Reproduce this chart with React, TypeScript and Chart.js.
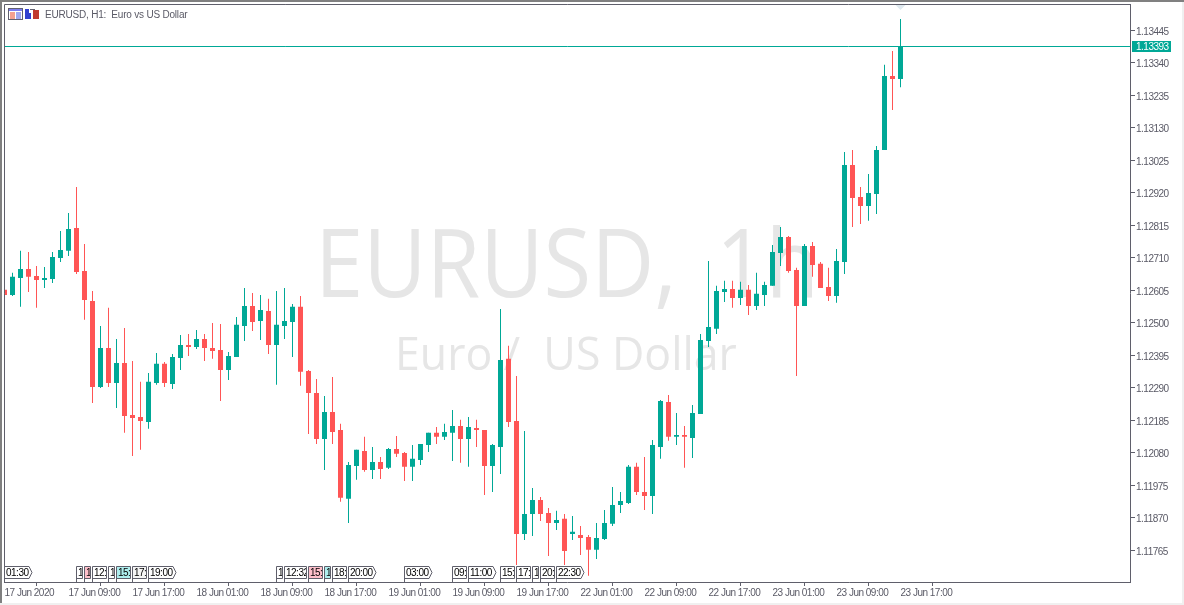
import React, { useEffect, useRef } from "react";
import { Chart, registerables } from "chart.js";

Chart.register(...registerables);

const opens = [
1.12607,1.12590,1.12645,1.12674,1.12652,1.12639,1.12642,1.12710,1.12733,1.12807,
1.12668,1.12571,1.12293,1.12419,1.12306,1.12371,1.12203,1.12196,1.12180,1.12306,
1.12368,1.12303,1.12387,1.12429,1.12422,1.12448,1.12419,1.12413,1.12348,1.12390,
1.12490,1.12555,1.12506,1.12539,1.12429,1.12490,1.12503,1.12552,1.12345,1.12274,
1.12125,1.12212,1.12154,1.11932,1.12038,1.12086,1.12025,1.12051,1.12032,1.12093,
1.12080,1.12035,1.12057,1.12106,1.12145,1.12132,1.12145,1.12167,1.12125,1.12161,
1.12154,1.12038,1.12099,1.12384,1.12183,1.11818,1.11883,1.11928,1.11886,1.11854,
1.11867,1.11818,1.11815,1.11808,1.11767,1.11802,1.11851,1.11912,1.11918,1.12035,
1.11954,1.11941,1.12099,1.12245,1.12132,1.12138,1.12128,1.12206,1.12442,1.12481,
1.12600,1.12610,1.12581,1.12607,1.12555,1.12590,1.12620,1.12726,1.12778,1.12671,
1.12555,1.12749,1.12691,1.12616,1.12587,1.12697,1.13010,1.12907,1.12878,1.12917,
1.13059,1.13298,1.13288];

const highs = [
1.12610,1.12662,1.12733,1.12729,1.12684,1.12681,1.12729,1.12797,1.12855,1.12939,
1.12755,1.12603,1.12490,1.12549,1.12448,1.12484,1.12377,1.12310,1.12338,1.12403,
1.12374,1.12400,1.12461,1.12464,1.12477,1.12464,1.12500,1.12497,1.12406,1.12519,
1.12613,1.12597,1.12590,1.12578,1.12603,1.12613,1.12561,1.12587,1.12348,1.12319,
1.12264,1.12325,1.12174,1.12051,1.12090,1.12132,1.12099,1.12067,1.12096,1.12135,
1.12083,1.12106,1.12109,1.12145,1.12164,1.12174,1.12219,1.12187,1.12196,1.12187,
1.12154,1.12109,1.12545,1.12426,1.12329,1.12151,1.11967,1.11938,1.11902,1.11893,
1.11883,1.11876,1.11844,1.11815,1.11854,1.11896,1.11970,1.11954,1.12041,1.12048,
1.12067,1.12122,1.12251,1.12267,1.12209,1.12167,1.12235,1.12464,1.12700,1.12620,
1.12636,1.12636,1.12633,1.12623,1.12662,1.12633,1.12752,1.12810,1.12781,1.12678,
1.12755,1.12762,1.12697,1.12678,1.12739,1.13052,1.13059,1.12939,1.12981,1.13072,
1.13334,1.13379,1.13482];

const lows = [
1.12587,1.12587,1.12552,1.12600,1.12549,1.12613,1.12629,1.12697,1.12716,1.12658,
1.12510,1.12241,1.12290,1.12293,1.12225,1.12145,1.12070,1.12090,1.12158,1.12300,
1.12293,1.12287,1.12348,1.12393,1.12416,1.12377,1.12384,1.12248,1.12316,1.12390,
1.12442,1.12474,1.12445,1.12400,1.12300,1.12448,1.12390,1.12297,1.12141,1.12109,
1.12025,1.12109,1.11922,1.11854,1.11993,1.12019,1.11996,1.11996,1.12028,1.12067,
1.11989,1.11989,1.12041,1.12083,1.12109,1.12122,1.12054,1.12048,1.12035,1.12099,
1.11944,1.11954,1.12012,1.12164,1.11718,1.11799,1.11812,1.11860,1.11747,1.11831,
1.11718,1.11799,1.11750,1.11683,1.11737,1.11799,1.11844,1.11886,1.11915,1.11944,
1.11896,1.11883,1.12061,1.12119,1.12106,1.12032,1.12064,1.12206,1.12422,1.12464,
1.12568,1.12549,1.12558,1.12526,1.12542,1.12555,1.12620,1.12684,1.12662,1.12329,
1.12555,1.12649,1.12613,1.12571,1.12565,1.12658,1.12810,1.12820,1.12830,1.12852,
1.13059,1.13188,1.13262];

const closes = [
1.12590,1.12649,1.12674,1.12649,1.12639,1.12645,1.12713,1.12736,1.12804,1.12665,
1.12574,1.12293,1.12419,1.12306,1.12371,1.12199,1.12193,1.12183,1.12310,1.12368,
1.12306,1.12390,1.12429,1.12422,1.12448,1.12419,1.12409,1.12348,1.12393,1.12494,
1.12555,1.12503,1.12542,1.12429,1.12494,1.12506,1.12552,1.12342,1.12274,1.12125,
1.12212,1.12148,1.11935,1.12041,1.12090,1.12025,1.12051,1.12028,1.12093,1.12077,
1.12035,1.12061,1.12109,1.12145,1.12132,1.12148,1.12167,1.12125,1.12164,1.12154,
1.12038,1.12106,1.12380,1.12180,1.11818,1.11883,1.11928,1.11883,1.11854,1.11863,
1.11763,1.11825,1.11805,1.11767,1.11805,1.11854,1.11912,1.11925,1.12035,1.11954,
1.11941,1.12106,1.12248,1.12132,1.12138,1.12132,1.12209,1.12445,1.12487,1.12603,
1.12610,1.12581,1.12607,1.12555,1.12594,1.12623,1.12729,1.12778,1.12668,1.12555,
1.12749,1.12687,1.12613,1.12587,1.12700,1.13010,1.12904,1.12878,1.12920,1.13059,
1.13298,1.13288,1.13393];

const priceTicks = [
1.13445,1.1334,1.13235,1.1313,1.13025,1.1292,1.12815,1.1271,1.12605,1.125,
1.12395,1.1229,1.12185,1.1208,1.11975,1.1187,1.11765];

const timeTickIndexes = [0,8,16,24,32,40,48,56,64,72,80,88,96,104,112];
const timeTickLabels = [
"17 Jun 2020","17 Jun 09:00","17 Jun 17:00","18 Jun 01:00","18 Jun 09:00",
"18 Jun 17:00","19 Jun 01:00","19 Jun 09:00","19 Jun 17:00","22 Jun 01:00",
"22 Jun 09:00","22 Jun 17:00","23 Jun 01:00","23 Jun 09:00","23 Jun 17:00"];

const eventIndexes = [0,9,10,11,13,14,16,18,34,35,38,40,41,43,50,56,58,62,64,66,67,69];
const eventLabels = ["01:30","1","1","12:","1","15:","17:","19:00","1","12:32","15:","1","18:","20:00","03:00","09:","11:00","15:","17:","1","20:","22:30"];
const eventKinds = ["end","plain","pink","plain","plain","cyan","soft","end","plain","plain","pink","cyan","plain","end","end","plain","end","plain","plain","plain","plain","end"];

const currentPrice = 1.13393;
const UP = "#00A896";
const DOWN = "#FF5555";
const FRAME = "#5F5F6B";
const TEXT = "#5A5A66";
const AXIS_FONT = "'Liberation Sans', sans-serif";
const TIGHT = "-0.5px";

const indexes = opens.map((_, i) => i);
const candleColors = indexes.map((i) => (closes[i] >= opens[i] ? UP : DOWN));

const decorations = {
  id: "decorations",
  beforeDraw(chart: any) {
    const { ctx, width, height } = chart;
    ctx.fillStyle = "#ffffff";
    ctx.fillRect(0, 0, width, height);
    ctx.fillStyle = "#808080";
    ctx.fillRect(0, 0, 2, height);
    ctx.fillRect(0, 0, width, 2);
    ctx.fillStyle = "#F0F0F0";
    ctx.fillRect(0, height - 2, width, 2);
    ctx.fillRect(width - 2, 2, 2, height - 2);
    // axis text is set slightly tighter than the font's own spacing
    ctx.letterSpacing = TIGHT;
  },
  beforeDatasetsDraw(chart: any) {
    const { ctx } = chart;
    ctx.save();
    ctx.letterSpacing = "0px";
    ctx.fillStyle = "#E6E6E6";
    ctx.textBaseline = "alphabetic";
    ctx.textAlign = "left";
    ctx.save();
    ctx.translate(315, 297);
    ctx.scale(0.905, 1);
    ctx.font = "500 96px 'Open Sans'";
    ctx.fillText("EURUSD,", 0, 0);
    ctx.restore();
    ctx.save();
    ctx.translate(716, 297);
    ctx.scale(0.905, 1);
    ctx.font = "500 96px 'Open Sans'";
    ctx.fillText("1h", 0, 0);
    ctx.restore();
    ctx.save();
    ctx.translate(395, 370);
    ctx.scale(0.97, 1);
    ctx.font = "46px 'Open Sans'";
    ctx.fillText("Euro /  US Dollar", 0, 0);
    ctx.restore();
    ctx.restore();
  },
  afterDatasetsDraw(chart: any) {
    const { ctx, chartArea, scales } = chart;
    const { left, right, bottom } = chartArea;
    ctx.save();
    ctx.lineWidth = 1;
    ctx.setLineDash([]);

    // price line
    const py = Math.floor(scales.y.getPixelForValue(currentPrice)) + 0.5;
    ctx.strokeStyle = UP;
    ctx.beginPath();
    ctx.moveTo(left, py);
    ctx.lineTo(right, py);
    ctx.stroke();

    // marker above last bar
    const lastX = scales.x.getPixelForValue(indexes.length - 1);
    ctx.fillStyle = "#DFE9EF";
    ctx.beginPath();
    ctx.moveTo(lastX - 5, 5);
    ctx.lineTo(lastX + 5, 5);
    ctx.lineTo(lastX, 10);
    ctx.closePath();
    ctx.fill();

    // frame
    ctx.strokeStyle = FRAME;
    ctx.beginPath();
    ctx.moveTo(4.5, bottom);
    ctx.lineTo(4.5, 4.5);
    ctx.lineTo(right, 4.5);
    ctx.stroke();

    // current price tag
    ctx.fillStyle = UP;
    ctx.fillRect(1132, 41, 39, 11);
    ctx.fillStyle = "#ffffff";
    ctx.font = `10px ${AXIS_FONT}`;
    ctx.textAlign = "left";
    ctx.textBaseline = "middle";
    ctx.fillText(currentPrice.toFixed(5), 1136, 47);

    // event labels
    ctx.font = `10px ${AXIS_FONT}`;
    eventIndexes.forEach((idx, k) => {
      const kind = eventKinds[k];
      const x = scales.x.getPixelForValue(idx);
      const isEnd = kind === "end";
      const w = isEnd ? 27.5 : (eventIndexes[k + 1] - idx) * 8 - 2;
      const yTop = 566.5;
      const yBot = 578.5;
      ctx.beginPath();
      ctx.moveTo(x, bottom);
      ctx.lineTo(x, yTop);
      if (isEnd) {
        ctx.lineTo(x + w - 3, yTop);
        ctx.lineTo(x + w, (yTop + yBot) / 2);
        ctx.lineTo(x + w - 3, yBot);
      } else {
        ctx.lineTo(x + w, yTop);
        ctx.lineTo(x + w, yBot);
      }
      ctx.lineTo(x, yBot);
      ctx.closePath();
      ctx.fillStyle = kind === "pink" ? "#FFC0CB" : kind === "cyan" ? "#AFEEEE" : kind === "soft" ? "#F5F5F5" : "#FFFFFF";
      ctx.fill();
      ctx.strokeStyle = FRAME;
      ctx.stroke();
      ctx.save();
      ctx.beginPath();
      ctx.rect(x + 0.5, yTop, w - 1, yBot - yTop);
      ctx.clip();
      ctx.fillStyle = "#000000";
      ctx.textAlign = "left";
      ctx.textBaseline = "middle";
      ctx.fillText(eventLabels[k], x + 1.5, 573);
      ctx.restore();
    });

    // title
    ctx.fillStyle = TEXT;
    ctx.font = `10px ${AXIS_FONT}`;
    ctx.letterSpacing = "-0.2px";
    ctx.textAlign = "left";
    ctx.textBaseline = "middle";
    ctx.fillText("EURUSD, H1:  Euro vs US Dollar", 45, 15);

    // chart-window icons
    ctx.strokeStyle = "#606070";
    ctx.strokeRect(8.5, 8.5, 14, 11);
    ctx.fillStyle = "#7C7CF0";
    ctx.fillRect(9, 9, 13, 2);
    ctx.fillStyle = "#F4A090";
    ctx.fillRect(10, 12, 5, 7);
    ctx.fillStyle = "#A0A8F0";
    ctx.fillRect(16, 12, 5, 7);
    ctx.fillStyle = "#3040D0";
    ctx.fillRect(25, 9, 6, 10);
    ctx.fillStyle = "#C03A30";
    ctx.fillRect(33, 10, 6, 9);
    ctx.fillStyle = "#ffffff";
    ctx.fillRect(29, 9, 4, 4);
    ctx.fillStyle = "#606070";
    ctx.fillRect(30, 9, 5, 1);
    ctx.restore();
  },
};

function noScalePadding(scale: any) {
  scale.paddingLeft = 0;
  scale.paddingRight = 0;
  scale.paddingTop = 0;
  scale.paddingBottom = 0;
}

export default function App() {
  const ref = useRef<HTMLCanvasElement | null>(null);
  useEffect(() => {
    const chart = new Chart(ref.current as HTMLCanvasElement, {
      type: "bar",
      data: {
        datasets: [
          {
            label: "wicks",
            data: indexes.map((i) => ({ x: i, y: [lows[i], highs[i]] })),
            backgroundColor: candleColors,
            barThickness: 1,
            inflateAmount: 0,
            grouped: false,
          },
          {
            label: "bodies",
            data: indexes.map((i) => ({ x: i, y: [opens[i], closes[i]] })),
            backgroundColor: candleColors,
            barThickness: 5,
            inflateAmount: 0,
            grouped: false,
          },
        ],
      } as any,
      options: {
        responsive: false,
        animation: false,
        layout: { padding: { left: 4.5, top: 4.5, right: 0, bottom: 0 } },
        plugins: { legend: { display: false }, tooltip: { enabled: false }, title: { display: false } },
        scales: {
          x: {
            type: "linear",
            offset: false,
            min: 0,
            max: 140.6875,
            afterFit(scale: any) { scale.height = 23; noScalePadding(scale); },
            afterBuildTicks(scale: any) { scale.ticks = timeTickIndexes.map((v) => ({ value: v })); },
            grid: { drawOnChartArea: false, drawTicks: true, tickLength: 4, color: FRAME },
            border: { color: FRAME, width: 1 },
            ticks: {
              autoSkip: false,
              maxRotation: 0,
              align: "start",
              padding: 1,
              color: TEXT,
              font: { family: AXIS_FONT, size: 10 },
              callback(v: any) {
                return timeTickLabels[timeTickIndexes.indexOf(v)] ?? "";
              },
            },
          },
          y: {
            type: "linear",
            position: "right",
            min: 1.11663,
            max: 1.13529,
            afterFit(scale: any) { scale.width = 54; noScalePadding(scale); },
            afterBuildTicks(scale: any) { scale.ticks = priceTicks.map((v) => ({ value: v })); },
            grid: { drawOnChartArea: false, drawTicks: true, tickLength: 5, color: FRAME },
            border: { color: FRAME, width: 1 },
            ticks: {
              padding: 1,
              labelOffset: 1.5,
              color: TEXT,
              font: { family: AXIS_FONT, size: 10 },
              callback(v: any) { return Number(v).toFixed(5); },
            },
          },
        },
      } as any,
      plugins: [decorations],
    });
    return () => chart.destroy();
  }, []);
  return (
    <canvas
      ref={ref}
      width={1184}
      height={605}
      style={{ position: "fixed", left: 0, top: 0, display: "block" }}
    />
  );
}
